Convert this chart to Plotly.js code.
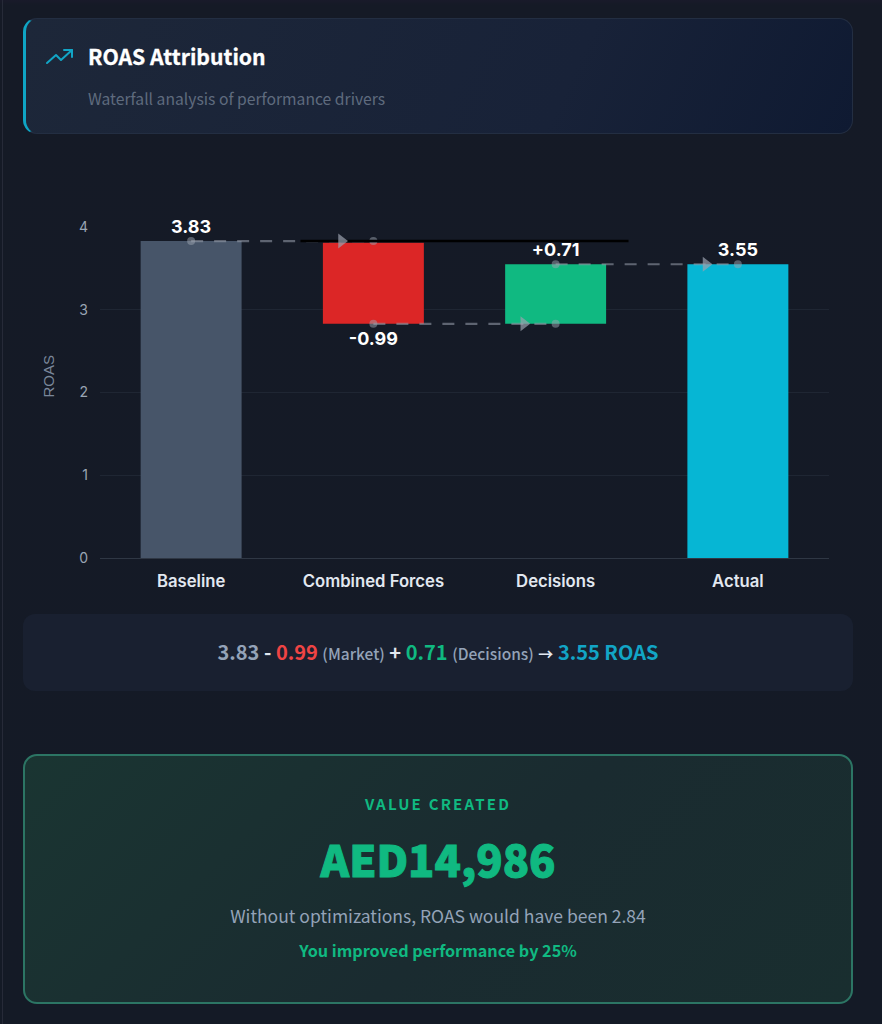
<!DOCTYPE html>
<html><head><meta charset="utf-8">
<script src="https://cdn.plot.ly/plotly-3.0.1.min.js"></script>
<style>
html,body{margin:0;padding:0;width:882px;height:1024px;overflow:hidden;background:#141925;}
body{position:relative;font-family:"Noto Sans CJK SC","Noto Sans",sans-serif;
 background:linear-gradient(180deg,#191a2a 0,#151a26 5px,#141a26 100%);}
.edge{position:absolute;left:2px;top:0;width:1px;height:1024px;background:#262a38;}
.card{position:absolute;box-sizing:border-box;}
#head{left:23px;top:18px;width:830px;height:116px;border-radius:14px;border:1px solid #232e42;border-left:3px solid #0fa5c4;
 background:linear-gradient(115deg,#1d2739 0%,#182238 65%,#0f1a32 100%);}
#head svg{position:absolute;left:19px;top:26px;}
#ttl{position:absolute;left:62px;top:21px;font-size:21.2px;font-weight:700;color:#fff;line-height:32px;white-space:nowrap;-webkit-text-stroke:0.3px #fff;}
#sub{position:absolute;left:62px;top:68px;font-size:15.7px;color:#5f6b7e;line-height:24px;white-space:nowrap;}
#plot{position:absolute;left:0;top:190px;width:882px;height:420px;}
#formula{left:23px;top:614px;width:830px;height:77px;border-radius:12px;background:#192030;text-align:center;line-height:76px;font-size:20px;font-weight:600;color:#e2e8f0;white-space:nowrap;}
#formula small{font-size:15.5px;font-weight:500;color:#94a3b8;}
#formula .arr{font-size:15px;font-weight:700;}
#value{left:23px;top:754px;width:830px;height:250px;border-radius:14px;border:2px solid #2c7564;background:linear-gradient(135deg,#1a3532 0%,#1a2b30 55%,#192e2f 100%);text-align:center;}
#value div{position:absolute;left:0;right:0;white-space:nowrap;}
</style></head><body>
<div class="edge"></div>
<div class="card" id="head">
<svg width="30" height="24" viewBox="0 0 30 24" fill="none" stroke="#12a5c6" stroke-width="2" stroke-linecap="round" stroke-linejoin="round"><path d="M2 18 L11 10 L16 15 L27 5"/><path d="M19 5 L27 5 L27 12"/></svg>
<div id="ttl">ROAS Attribution</div>
<div id="sub">Waterfall analysis of performance drivers</div>
</div>
<div id="plot"></div>
<div class="card" id="formula"><span style="color:#94a3b8">3.83</span> - <span style="color:#ef4444">0.99</span> <small>(Market)</small> + <span style="color:#10b981">0.71</span> <small>(Decisions)</small> <span class="arr">→</span> <span style="color:#12a5c6">3.55 ROAS</span></div>
<div class="card" id="value">
<div style="top:37px;font-size:15px;font-weight:700;letter-spacing:2.2px;color:#10b981;line-height:22px">VALUE CREATED</div>
<div style="top:70px;font-size:43.4px;font-weight:900;color:#10b981;line-height:64px;-webkit-text-stroke:1px #10b981">AED14,986</div>
<div style="top:147px;font-size:17.5px;color:#94a3b8;line-height:26px">Without optimizations, ROAS would have been 2.84</div>
<div style="top:181px;font-size:16.2px;font-weight:700;color:#10b981;line-height:26px">You improved performance by 25%</div>
</div>
<script>
const categories = ["Baseline","Combined Forces","Decisions","Actual"];
const positions = [0,1,2,3];
const barBase = [0,2.83,2.83,0];
const barHeight = [3.83,0.98,0.72,3.55];
const barColors = ["#475569","#dc2626","#10b981","#06b6d4"];
const labels = ["3.83","-0.99","+0.71","3.55"];
const labelY = [3.98,2.63,3.7,3.7];
const link1X = [0,1], link1Y = [3.83,3.83];
const link2X = [1,2], link2Y = [2.83,2.83];
const link3X = [2,3], link3Y = [3.55,3.55];
const arrowX = [0.825,1.825,2.825];
const arrowY = [3.83,2.83,3.55];
const refX = [0.6,2.4], refY = [3.83,3.83];
const yTicks = [0,1,2,3,4];

const linkStyle = {color:"rgba(155,163,175,0.55)",width:2.2,dash:"12px 11px"};
const dot = {size:8,color:"rgba(155,163,175,0.5)"};
function link(x,y){return {type:"scatter",mode:"lines+markers",x:x,y:y,line:linkStyle,marker:dot,hoverinfo:"skip",showlegend:false};}
const traces = [
 {type:"bar",x:positions,y:barHeight,base:barBase,width:0.554,marker:{color:barColors,line:{width:0}},hoverinfo:"skip",showlegend:false},
 link(link1X,link1Y),link(link2X,link2Y),link(link3X,link3Y),
 {type:"scatter",mode:"lines",x:refX,y:refY,line:{color:"#000000",width:2.5},hoverinfo:"skip",showlegend:false},
 {type:"scatter",mode:"markers",x:arrowX,y:arrowY,marker:{symbol:"triangle-right",size:13,color:"rgba(155,163,175,0.7)"},hoverinfo:"skip",showlegend:false},
 {type:"scatter",mode:"text",x:positions,y:labelY,text:labels,textposition:"middle center",cliponaxis:false,
  textfont:{family:"Inter, sans-serif",size:18,weight:700,color:"#ffffff"},hoverinfo:"skip",showlegend:false}
];
const layout = {
 width:882,height:420,margin:{l:100,r:53,t:37,b:52},
 paper_bgcolor:"rgba(0,0,0,0)",plot_bgcolor:"rgba(0,0,0,0)",showlegend:false,
 xaxis:{range:[-0.5,3.5],tickmode:"array",tickvals:positions,ticktext:categories,showgrid:false,zeroline:false,
  showline:true,linecolor:"#2f3744",linewidth:1,ticks:"",ticklabelstandoff:8,
  tickfont:{family:"Inter, sans-serif",size:16.7,weight:600,color:"#e2e8f0"}},
 yaxis:{range:[0,4],tickmode:"array",tickvals:yTicks,ticktext:yTicks.map(String),showgrid:true,gridcolor:"#1f2633",gridwidth:1,zeroline:false,
  showline:false,ticks:"",ticklabelstandoff:11,tickfont:{family:"Inter, sans-serif",size:14,color:"#9aa5b4"}},
 annotations:[{text:"ROAS",xref:"paper",yref:"paper",x:0,y:0.5,xanchor:"center",yanchor:"middle",xshift:-52,yshift:16,textangle:-90,showarrow:false,
  font:{family:"Liberation Sans, sans-serif",size:15,color:"#7a879a"}}]
};
Plotly.newPlot("plot",traces,layout,{displayModeBar:false,staticPlot:true});
</script>
</body></html>
